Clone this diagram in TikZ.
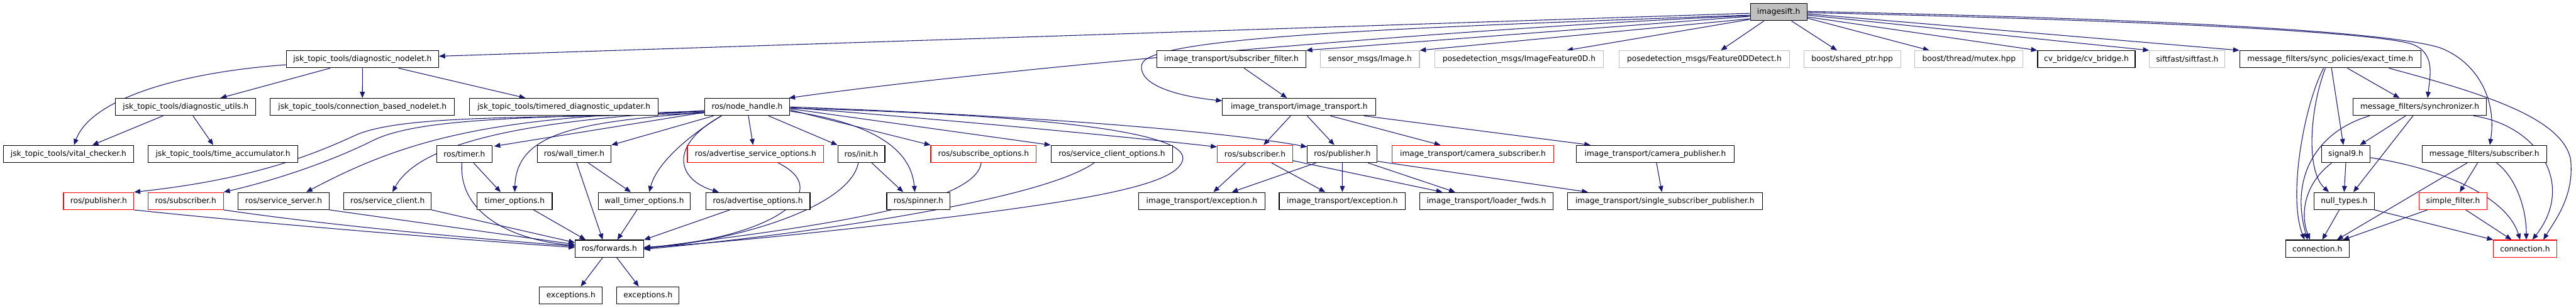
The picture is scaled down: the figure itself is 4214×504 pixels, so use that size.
\documentclass[tikz,border=0pt]{standalone}
\usepackage{fontspec}
\newfontfamily\dejavu{DejaVu Sans}
\usetikzlibrary{arrows.meta}
\definecolor{edgeblue}{HTML}{191970}
\definecolor{grayb}{HTML}{BFBFBF}
\newcommand\dgfont{\dejavu\fontsize{12.6pt}{15pt}\selectfont}
\pgfdeclarelayer{bg}
\pgfsetlayers{bg,main}
\begin{document}
\begin{tikzpicture}[x=1pt,y=-1pt,
  nbox/.style={draw=black, fill=white, line width=1.2pt, minimum height=28pt, inner sep=0pt, font=\dgfont},
  rbox/.style={nbox, draw=red},
  gbox/.style={nbox, draw=grayb},
  arr/.style={draw=edgeblue, line width=1.1pt, -{Triangle[length=10pt,width=8pt]}}]
\path[use as bounding box] (0,0) rectangle (4214,504);
% row 0
\node[nbox,fill=grayb,minimum width=92.6pt] (isift) at (2909.6,19.7) {imagesift.h};
% row 1
\node[nbox,minimum width=249pt] (dn) at (593,97) {jsk\_topic\_tools/diagnostic\_nodelet.h};
\node[nbox,minimum width=243.5pt] (sf) at (2014.3,97) {image\_transport/subscriber\_filter.h};
\node[gbox,minimum width=162pt] (smi) at (2241,97) {sensor\_msgs/Image.h};
\node[gbox,minimum width=276pt] (ifd) at (2485,97) {posedetection\_msgs/ImageFeature0D.h};
\node[gbox,minimum width=279pt] (fdd) at (2788,97) {posedetection\_msgs/Feature0DDetect.h};
\node[gbox,minimum width=158.5pt] (shp) at (3030,97) {boost/shared\_ptr.hpp};
\node[gbox,minimum width=177pt] (mtx) at (3221,97) {boost/thread/mutex.hpp};
\node[nbox,minimum width=159.5pt] (cvb) at (3413,97) {cv\_bridge/cv\_bridge.h};
\node[gbox,minimum width=123.5pt] (sift) at (3578,97) {siftfast/siftfast.h};
\node[nbox,minimum width=296.5pt] (et) at (3812,97) {message\_filters/sync\_policies/exact\_time.h};
% row 2
\node[nbox,minimum width=229pt] (du) at (303.7,175) {jsk\_topic\_tools/diagnostic\_utils.h};
\node[nbox,minimum width=301.6pt] (cbn) at (592.8,175) {jsk\_topic\_tools/connection\_based\_nodelet.h};
\node[nbox,minimum width=308.7pt] (tdu) at (922.5,175) {jsk\_topic\_tools/timered\_diagnostic\_updater.h};
\node[nbox,minimum width=139.6pt] (nh) at (1222.2,175) {ros/node\_handle.h};
\node[nbox,minimum width=251pt] (it) at (2125.3,175) {image\_transport/image\_transport.h};
\node[nbox,minimum width=218.5pt] (sync) at (3958.3,175) {message\_filters/synchronizer.h};
% row 3
\node[nbox,minimum width=213pt] (vc) at (112,252) {jsk\_topic\_tools/vital\_checker.h};
\node[nbox,minimum width=245.5pt] (ta) at (364.8,252) {jsk\_topic\_tools/time\_accumulator.h};
\node[nbox,minimum width=90pt] (timer) at (759.7,252) {ros/timer.h};
\node[nbox,minimum width=120.6pt] (wtimer) at (939.3,252) {ros/wall\_timer.h};
\node[rbox,minimum width=223pt] (aso) at (1235.9,252) {ros/advertise\_service\_options.h};
\node[nbox,minimum width=77pt] (init) at (1409,252) {ros/init.h};
\node[rbox,minimum width=172.6pt] (so) at (1609,252) {ros/subscribe\_options.h};
\node[nbox,minimum width=199.3pt] (sco) at (1818.9,252) {ros/service\_client\_options.h};
\node[rbox,minimum width=123.5pt] (sub2) at (2053,252) {ros/subscriber.h};
\node[nbox,minimum width=114.3pt] (pub2) at (2195.8,252) {ros/publisher.h};
\node[rbox,minimum width=265pt] (csub) at (2409.4,252) {image\_transport/camera\_subscriber.h};
\node[nbox,minimum width=257.5pt] (cpub) at (2707.8,252) {image\_transport/camera\_publisher.h};
\node[nbox,minimum width=78.7pt] (sig9) at (3837.4,252) {signal9.h};
\node[nbox,minimum width=203.6pt] (mfsub) at (4064,252) {message\_filters/subscriber.h};
% row 4
\node[rbox,minimum width=115pt] (pub1) at (161.4,329) {ros/publisher.h};
\node[rbox,minimum width=123.5pt] (sub1) at (303.7,329) {ros/subscriber.h};
\node[nbox,minimum width=149.5pt] (ss) at (464,329) {ros/service\_server.h};
\node[nbox,minimum width=143pt] (sc) at (634,329) {ros/service\_client.h};
\node[nbox,minimum width=122.7pt] (topt) at (842,329) {timer\_options.h};
\node[nbox,minimum width=150.7pt] (wtopt) at (1054,329) {wall\_timer\_options.h};
\node[nbox,minimum width=170.5pt] (ao) at (1239.8,329) {ros/advertise\_options.h};
\node[nbox,minimum width=103.8pt] (spin) at (1502.5,329) {ros/spinner.h};
\node[nbox,minimum width=206pt] (ex1) at (1966,329) {image\_transport/exception.h};
\node[nbox,minimum width=206.7pt] (ex2) at (2195.9,329) {image\_transport/exception.h};
\node[nbox,minimum width=218pt] (lf) at (2431.5,329) {image\_transport/loader\_fwds.h};
\node[nbox,minimum width=318.5pt] (ssp) at (2723.6,329) {image\_transport/single\_subscriber\_publisher.h};
\node[nbox,minimum width=99pt] (nt) at (3834.7,329) {null\_types.h};
\node[rbox,minimum width=110.6pt] (simf) at (4012.8,329) {simple\_filter.h};
% row 5
\node[nbox,minimum width=112pt] (fwd) at (996.9,407) {ros/forwards.h};
\node[nbox,minimum width=103.8pt] (conn1) at (3790.9,407) {connection.h};
\node[rbox,minimum width=103.2pt] (conn2) at (4130.6,407) {connection.h};
% row 6
\node[nbox,minimum width=103pt] (exc1) at (934,483.5) {exceptions.h};
\node[nbox,minimum width=102pt] (exc2) at (1060,483.5) {exceptions.h};

\begin{pgfonlayer}{bg}
\fill[white] (0,0) rectangle (4214,504);
% imagesift edges
\draw[arr] ([yshift=-2pt]isift.west) -- ([yshift=5pt]dn.east);
\draw[arr] ([yshift=-6pt]isift.west) .. controls (2400,45) and (1650,110) .. ([xshift=-2pt]nh.north east);
\draw[arr] ([yshift=-7pt]isift.west) -- (sf.north east);
\draw[arr] ([yshift=-5pt]isift.west) .. controls (2300,45) and (1880,60) .. (1868,105) .. controls (1860,140) and (1930,158) .. ([yshift=10pt]it.west);
\draw[arr] ([yshift=-11pt]isift.west) -- (smi.north east);
\draw[arr] ([yshift=-12pt]isift.west) -- ([xshift=78pt]ifd.north);
\draw[arr] ([xshift=-24pt]isift.south) -- ([xshift=27pt]fdd.north);
\draw[arr] ([xshift=21pt]isift.south) -- ([xshift=-25pt]shp.north);
\draw[arr] ([yshift=-10pt]isift.east) -- ([xshift=-65pt]mtx.north);
\draw[arr] ([yshift=-8pt]isift.east) -- (cvb.north west);
\draw[arr] ([yshift=-5pt]isift.east) -- (sift.north west);
\draw[arr] ([yshift=-3pt]isift.east) -- (et.north west);
\draw[arr] ([yshift=-1pt]isift.east) .. controls (3500,33) and (3880,52) .. (3945,72) .. controls (3985,86) and (3975,125) .. ([xshift=13pt]sync.north);
\draw[arr] ([yshift=1pt]isift.east) .. controls (3500,30) and (3900,50) .. (3991,78) .. controls (4050,100) and (4085,160) .. ([xshift=9pt]mfsub.north);
% diagnostic nodelet
\draw[arr] ([yshift=-9pt]dn.west) .. controls (300,118) and (150,160) .. ([xshift=9pt]vc.north);
\draw[arr] ([xshift=-53pt]dn.south) -- ([xshift=57pt]du.north);
\draw[arr] (dn.south) -- (cbn.north);
\draw[arr] ([xshift=59pt]dn.south) -- ([xshift=-63pt]tdu.north);
\draw[arr] ([xshift=-37pt]du.south) -- ([xshift=39pt]vc.north);
\draw[arr] ([xshift=12pt]du.south) -- ([xshift=-16pt]ta.north);
% node handle
\draw[arr] ([yshift=-10pt]nh.west) .. controls (900,195) and (660,185) .. (580,222) .. controls (500,259) and (400,295) .. (pub1.north east);
\draw[arr] ([yshift=-8pt]nh.west) .. controls (900,193) and (690,190) .. (610,230) .. controls (540,265) and (450,295) .. (sub1.north east);
\draw[arr] ([yshift=-7pt]nh.west) .. controls (800,190) and (660,230) .. ([xshift=37pt]ss.north);
\draw[arr] ([yshift=-6pt]nh.west) .. controls (900,195) and (690,225) .. ([xshift=8pt]sc.north);
\draw[arr] ([yshift=-9pt]nh.west) -- ([xshift=3pt,yshift=-2pt]timer.north east);
\draw[arr] ([yshift=-9pt]nh.west) .. controls (950,200) and (845,215) .. (topt.north);
\draw[arr] ([xshift=-55pt]nh.south) -- (wtimer.north east);
\draw[arr] ([xshift=-42pt]nh.south) .. controls (1130,220) and (1075,265) .. ([xshift=8pt]wtopt.north);
\draw[arr] ([xshift=-42pt]nh.south) .. controls (1090,240) and (1110,295) .. ([xshift=-64pt]ao.north);
\draw[arr] ([xshift=2pt]nh.south) -- ([xshift=-4pt]aso.north);
\draw[arr] ([xshift=35pt]nh.south) -- (init.north west);
\draw[arr] ([yshift=-7pt]nh.east) .. controls (1420,200) and (1490,240) .. ([xshift=-6pt]spin.north);
\draw[arr] ([yshift=-5pt]nh.east) -- (so.north west);
\draw[arr] ([yshift=-3pt]nh.east) -- (sco.north west);
\draw[arr] ([yshift=-1pt]nh.east) .. controls (1600,200) and (1850,225) .. ([yshift=-3pt]sub2.north west);
\draw[arr] (nh.east) .. controls (1700,190) and (2000,215) .. ([yshift=-3pt]pub2.north west);
\draw[arr] ([yshift=-2pt]nh.east) .. controls (1700,188) and (1940,215) .. (1935,260) .. controls (1930,300) and (1800,325) .. (1540,357) .. controls (1350,380) and (1150,400) .. ([yshift=2pt]fwd.east);
% into forwards
\draw[arr] ([xshift=37pt]aso.south) .. controls (1370,315) and (1260,390) .. ([yshift=2pt]fwd.east);
\draw[arr] ([xshift=-5pt]init.south) .. controls (1390,340) and (1200,395) .. ([yshift=1pt]fwd.east);
\draw[arr] ([xshift=-4pt]so.south) .. controls (1595,345) and (1250,380) .. (fwd.east);
\draw[arr] ([xshift=-29pt]sco.south) .. controls (1700,330) and (1300,385) .. ([yshift=-1pt]fwd.east);
\draw[arr] ([xshift=-46pt]ao.south) -- (fwd.north east);
\draw[arr] ([xshift=-4pt]timer.south) .. controls (750,340) and (820,390) .. ([yshift=5pt]fwd.west);
\draw[arr] ([xshift=31pt]topt.south) -- ([xshift=-39pt]fwd.north);
\draw[arr] ([xshift=4pt]wtimer.south) -- ([xshift=-11pt]fwd.north);
\draw[arr] ([xshift=-12pt]wtopt.south) -- ([xshift=13pt]fwd.north);
\draw[arr] (pub1.south east) .. controls (420,365) and (750,392) .. ([yshift=2pt]fwd.west);
\draw[arr] (sub1.south east) .. controls (560,372) and (800,392) .. ([yshift=4pt]fwd.west);
\draw[arr] (ss.south east) -- ([yshift=7pt]fwd.west);
\draw[arr] (sc.south east) -- ([yshift=10pt]fwd.west);
\draw[arr] ([xshift=-11pt]fwd.south) -- ([xshift=16pt]exc1.north);
\draw[arr] ([xshift=12pt]fwd.south) -- ([xshift=-15pt]exc2.north);
\draw[arr] ([xshift=15pt]timer.south) -- ([xshift=-23pt]topt.north);
\draw[arr] ([xshift=23pt]wtimer.south) -- ([xshift=-22pt]wtopt.north);
\draw[arr] ([xshift=17pt]init.south) -- ([xshift=-25pt]spin.north);
% image transport
\draw[arr] ([xshift=21pt]sf.south) -- ([xshift=-20pt]it.north);
\draw[arr] ([xshift=-14pt]it.south) -- ([xshift=14pt]sub2.north);
\draw[arr] ([xshift=13pt]it.south) -- ([xshift=-13pt]pub2.north);
\draw[arr] ([xshift=51pt]it.south) -- ([xshift=-53pt]csub.north);
\draw[arr] ([xshift=106pt]it.south) -- ([xshift=-106pt]cpub.north);
\draw[arr] ([xshift=-16pt]sub2.south) -- ([xshift=19pt]ex1.north);
\draw[arr] ([xshift=27pt]sub2.south) -- ([xshift=-28pt]ex2.north);
\draw[arr] ([yshift=-11pt]sub2.east) -- ([xshift=-72pt]lf.north);
\draw[arr] ([xshift=-43pt]pub2.south) -- ([xshift=49pt]ex1.north);
\draw[arr] (pub2.south) -- (ex2.north);
\draw[arr] ([xshift=42pt]pub2.south) -- ([xshift=-51pt]lf.north);
\draw[arr] ([yshift=-12pt]pub2.east) -- ([xshift=-126pt]ssp.north);
\draw[arr] ([xshift=2pt]cpub.south) -- ([xshift=-5pt]ssp.north);
% message filters
\draw[arr] ([xshift=-11pt]et.south) .. controls (3770,170) and (3742,320) .. ([xshift=-21pt]conn1.north);
\draw[arr] ([xshift=-8pt]et.south) .. controls (3778,180) and (3772,280) .. ([xshift=-25pt]nt.north);
\draw[arr] ([xshift=2pt]et.south) -- ([xshift=-4pt]sig9.north);
\draw[arr] ([xshift=28pt]et.south) -- ([xshift=-33pt]sync.north);
\draw[arr] ([xshift=96pt]et.south) .. controls (4050,150) and (4190,190) .. (4205,260) .. controls (4212,320) and (4180,360) .. ([xshift=30pt]conn2.north);
\draw[arr] ([xshift=-82pt]sync.south) .. controls (3790,215) and (3745,290) .. ([xshift=-16pt]conn1.north);
\draw[arr] ([xshift=-23pt]sync.south) -- ([xshift=23pt]sig9.north);
\draw[arr] ([xshift=-11pt]sync.south) -- ([xshift=15pt]nt.north);
\draw[arr] ([xshift=88pt]sync.south) .. controls (4150,205) and (4215,300) .. ([xshift=12pt]conn2.north);
\draw[arr] (sig9.south) -- (nt.north);
\draw[arr] ([xshift=-23pt]sig9.south) .. controls (3770,300) and (3762,350) .. ([xshift=-12pt]conn1.north);
\draw[arr] ([yshift=-6pt]sig9.east) .. controls (3990,275) and (4100,320) .. ([xshift=-8pt]conn2.north);
\draw[arr] ([xshift=-28pt]mfsub.south) -- ([xshift=32pt]conn1.north);
\draw[arr] ([xshift=-11pt]mfsub.south) -- ([xshift=11pt]simf.north);
\draw[arr] ([xshift=20pt]mfsub.south) .. controls (4115,290) and (4133,340) .. ([xshift=2pt]conn2.north);
\draw[arr] ([xshift=-8pt]nt.south) -- ([xshift=8pt]conn1.north);
\draw[arr] (nt.south east) -- (conn2.north west);
\draw[arr] ([xshift=-42pt]simf.south) -- ([xshift=42pt]conn1.north);
\draw[arr] ([xshift=21pt]simf.south) -- ([xshift=-22pt]conn2.north);
\end{pgfonlayer}
\end{tikzpicture}
\end{document}
